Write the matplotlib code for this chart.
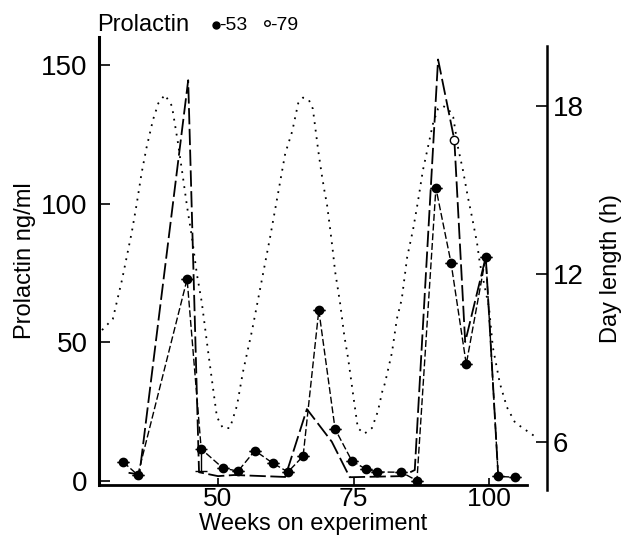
import matplotlib.pyplot as plt
from matplotlib.lines import Line2D

plt.rcParams['font.family'] = ['Liberation Sans', 'DejaVu Sans']

# prolactin, animal 53 (filled circles)
weeks_53 = [32.5, 35.2, 44.3, 46.9, 50.9, 53.7, 56.8, 60.1, 62.9, 65.7, 68.6, 71.6,
            74.7, 77.3, 79.3, 83.8, 86.7, 90.2, 93.0, 95.8, 99.4, 101.7, 104.8]
prl_53 = [6.7, 2.0, 72.7, 11.4, 4.5, 3.4, 10.8, 6.3, 3.1, 8.8, 61.5, 18.6,
          7.1, 4.1, 3.1, 3.0, 0.0, 105.6, 78.5, 42.0, 80.7, 1.5, 1.2]
err_low_53 = [0, 0, 0, 8.0, 0, 0, 0, 0, 0, 0, 0, 0,
              0, 0, 0, 0, 0, 0, 0, 0, 0, 0, 0]

# prolactin, animal 79 (open circles)
weeks_79 = [33.5, 35.5, 44.5, 46.5, 50.0, 53.0, 62.4, 66.4, 71.0, 74.3, 84.0, 86.3,
            90.6, 93.6, 95.6, 99.4, 101.7]
prl_79 = [2.8, 2.2, 144.5, 3.0, 1.6, 2.0, 1.3, 25.8, 14.0, 1.2, 1.6, 3.8,
          152.0, 123.0, 50.0, 80.7, 1.5]

# day length (h)
weeks_day = [28.6, 30.6, 32.3, 34.1, 35.0, 35.9, 36.8, 38.0, 39.0, 40.2, 41.5, 42.6,
             43.5, 44.3, 45.2, 46.1, 47.0, 48.2, 49.1, 49.8, 50.9, 52.2, 53.5, 54.6,
             56.3, 57.7, 59.6, 61.1, 62.4, 63.7, 64.8, 65.7, 66.8, 67.5, 67.9, 68.5,
             69.1, 69.7, 70.1, 70.7, 71.2, 71.6, 72.5, 73.3, 74.0, 75.0, 75.8, 77.0,
             78.4, 79.5, 80.3, 80.8, 82.1, 83.0, 83.9, 84.9, 86.0, 86.9, 87.8, 88.7,
             89.7, 90.6, 91.5, 92.5, 93.4, 94.3, 95.2, 96.1, 96.9, 97.8, 98.3, 100.0,
             100.7, 102.0, 103.3, 104.8, 107.0, 108.5]
day_len = [10.0, 10.4, 11.8, 13.5, 14.5, 15.6, 16.5, 17.5, 18.1, 18.4, 18.0, 16.7,
           15.5, 14.4, 13.3, 12.0, 11.0, 9.2, 7.9, 6.9, 6.5, 6.5, 7.3, 8.5,
           10.0, 11.4, 13.3, 14.9, 16.3, 17.1, 18.1, 18.3, 18.2, 17.9, 17.3, 16.4,
           15.6, 14.9, 14.5, 13.6, 12.8, 12.1, 11.0, 9.8, 9.0, 7.6, 6.5, 6.3,
           6.5, 7.1, 7.8, 8.1, 9.2, 10.4, 11.1, 12.6, 13.6, 14.6, 15.7, 16.5,
           17.4, 17.9, 18.0, 17.9, 17.6, 16.5, 15.7, 14.75, 14.0, 13.1, 12.4, 10.8,
           9.4, 8.1, 7.25, 6.7, 6.4, 6.2]

fig = plt.figure(figsize=(6.26, 5.52), dpi=100)

# day length axis (right)
ax2 = fig.add_axes([0.1581, 0.1123, 0.7157, 0.8043])
ax2.patch.set_alpha(0)
ax2.plot(weeks_day, day_len, color='black', lw=1.3, linestyle=(0, (1, 3.2)))
ax2.set_xlim(28.04, 110.7)
ax2.set_ylim(4.29, 20.14)
for s in ['left', 'top', 'bottom']:
    ax2.spines[s].set_visible(False)
ax2.spines['right'].set_linewidth(1.8)
ax2.xaxis.set_visible(False)
ax2.yaxis.tick_right()
ax2.yaxis.set_label_position('right')
ax2.set_yticks([6, 12, 18])
ax2.tick_params(axis='y', direction='in', length=8, width=1.2, labelsize=20, pad=4)
ax2.set_ylabel('Day length (h)', fontsize=17, labelpad=12)

# prolactin axis (left)
ax = fig.add_axes([0.1581, 0.1219, 0.6837, 0.8105])
ax.patch.set_alpha(0)
ax.plot(weeks_79, prl_79, color='black', lw=1.3, linestyle=(0, (9, 2.5)),
        marker='o', mfc='white', mec='black', ms=6, markevery=[13])
ax.errorbar(weeks_53, prl_53, yerr=[err_low_53, [0] * len(err_low_53)], fmt='none',
            ecolor='black', elinewidth=1.0, capsize=4)
ax.plot(weeks_53, prl_53, color='black', lw=1.0, linestyle=(0, (5, 2)),
        marker='o', mfc='black', mec='black', ms=6)
ax.set_xlim(28.04, 107.0)
ax.set_ylim(-1.5, 160)
ax.spines['top'].set_visible(False)
ax.spines['right'].set_visible(False)
ax.spines['left'].set_linewidth(2.2)
ax.spines['bottom'].set_linewidth(2.0)
ax.set_xticks([50, 75, 100])
ax.set_yticks([0, 50, 100, 150])
ax.tick_params(axis='both', direction='in', length=8, width=1.2, labelsize=20)
ax.tick_params(axis='x', length=5, pad=2, labelsize=19)
ax.tick_params(axis='y', pad=8)
ax.set_xlabel('Weeks on experiment', fontsize=17, labelpad=1)
ax.set_ylabel('Prolactin ng/ml', fontsize=17, labelpad=4)

# legend in the header
fig.text(97 / 626, 1 - 25 / 552, 'Prolactin', fontsize=17, va='center', ha='left')
fig.add_artist(Line2D([216 / 626], [1 - 25 / 552], marker='o', color='black', ms=5,
                      transform=fig.transFigure))
fig.text(219 / 626, 1 - 26 / 552, '-53', fontsize=14, va='center', ha='left')
fig.add_artist(Line2D([267 / 626], [1 - 23 / 552], marker='o', mfc='white', mec='black',
                      ms=4, transform=fig.transFigure))
fig.text(270 / 626, 1 - 26 / 552, '-79', fontsize=14, va='center', ha='left')

fig.savefig('out.png', dpi=100)
